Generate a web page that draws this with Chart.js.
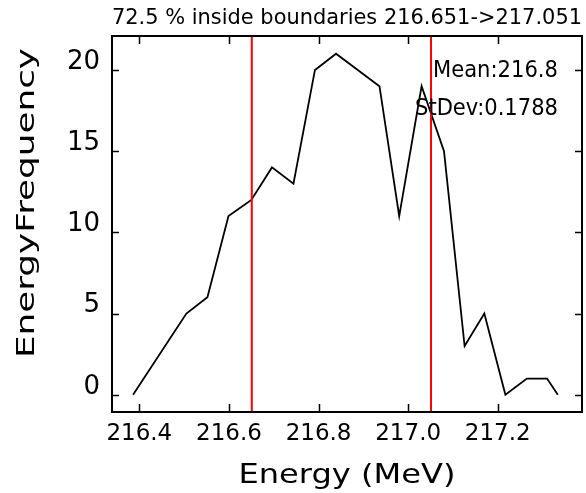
<!DOCTYPE html>
<html>
<head>
<meta charset="utf-8">
<script src="https://cdn.jsdelivr.net/npm/chart.js@4.4.1/dist/chart.umd.min.js"></script>
<style>
  body { margin: 0; background: #fff; }
  #wrap { width: 586px; height: 493px; }
</style>
</head>
<body>
<div id="wrap"><canvas id="energyChart" width="586" height="493"></canvas></div>
<script>
// values
const energy = [216.386, 216.505, 216.552, 216.599, 216.65, 216.696, 216.744, 216.792, 216.839,
  216.936, 216.98, 217.03, 217.08, 217.126, 217.17, 217.217, 217.265, 217.31, 217.334];
const counts = [0, 5, 6, 11, 12, 14, 13, 20, 21, 19, 11, 19, 15, 3, 5, 0, 1, 1, 0];
const bounds = [216.651, 217.051];
const xTicks = [216.4, 216.6, 216.8, 217.0, 217.2];
const yTicks = [0, 5, 10, 15, 20];
const xRange = [216.339, 217.388];
const yRange = [-1.06, 22.09];

const titleText = '72.5 % inside boundaries 216.651->217.051';
const meanText = 'Mean:216.8';
const stdText = 'StDev:0.1788';

const FONT = '"DejaVu Sans", sans-serif';

// draws text stretched horizontally to a given width (the original font is very wide)
function drawFit(ctx, text, x, y, w, size, rotate) {
  ctx.save();
  ctx.font = size + 'px ' + FONT;
  const m = ctx.measureText(text).width;
  ctx.translate(x, y);
  if (rotate) ctx.rotate(-Math.PI / 2);
  ctx.scale(w / m, 1);
  ctx.textAlign = 'center';
  ctx.textBaseline = 'alphabetic';
  ctx.fillStyle = '#000';
  ctx.fillText(text, 0, 0);
  ctx.restore();
}

const framePlugin = {
  id: 'frame',
  afterDraw(chart) {
    const ctx = chart.ctx;
    const a = chart.chartArea;
    const xs = chart.scales.x, ys = chart.scales.y;
    ctx.save();
    ctx.strokeStyle = '#000';
    ctx.lineWidth = 1.5;
    ctx.beginPath();
    xTicks.forEach(v => {
      const px = Math.round(xs.getPixelForValue(v)) + 0.5;
      ctx.moveTo(px, a.bottom); ctx.lineTo(px, a.bottom - 8);
      ctx.moveTo(px, a.top); ctx.lineTo(px, a.top + 8);
    });
    yTicks.forEach(v => {
      const py = Math.round(ys.getPixelForValue(v)) + 0.5;
      ctx.moveTo(a.left, py); ctx.lineTo(a.left + 7, py);
      ctx.moveTo(a.right, py); ctx.lineTo(a.right - 7, py);
    });
    ctx.stroke();
    ctx.lineWidth = 2;
    ctx.strokeRect(a.left, a.top, a.right - a.left, a.bottom - a.top);
    ctx.restore();

    const cx = (a.left + a.right) / 2;
    drawFit(ctx, titleText, cx, 24, 470, 20.5);
    drawFit(ctx, 'Energy (MeV)', cx, 482.5, 217, 27);
    drawFit(ctx, 'EnergyFrequency', 33.5, 203, 310, 25, true);
    drawFit(ctx, meanText, 558 - 125 / 2, 76.5, 125, 23);
    drawFit(ctx, stdText, 558 - 143 / 2, 115, 143, 23);
  }
};

const lineData = energy.map((e, i) => ({ x: e, y: counts[i] }));
const boundSets = bounds.map(b => ({
  data: [{ x: b, y: yRange[0] }, { x: b, y: yRange[1] }],
  borderColor: '#ff0000',
  borderWidth: 2,
  pointRadius: 0,
  order: 0,
}));

new Chart(document.getElementById('energyChart'), {
  type: 'line',
  data: {
    datasets: [
      ...boundSets,
      {
        data: lineData,
        borderColor: '#000',
        borderWidth: 1.8,
        pointRadius: 0,
        tension: 0,
        order: 1,
      },
    ],
  },
  options: {
    responsive: false,
    animation: false,
    layout: { padding: { top: 36, right: 4, left: 0, bottom: 0 } },
    plugins: { legend: { display: false }, tooltip: { enabled: false } },
    scales: {
      x: {
        type: 'linear',
        min: xRange[0],
        max: xRange[1],
        grid: { display: false, drawTicks: false },
        border: { display: false },
        afterBuildTicks: s => { s.ticks = xTicks.map(v => ({ value: v })); },
        afterFit: s => { s.height = 81; },
        ticks: {
          autoSkip: false,
          maxRotation: 0,
          padding: 8,
          color: '#000',
          font: { family: FONT, size: 23 },
          callback: v => v.toFixed(1),
        },
      },
      y: {
        min: yRange[0],
        max: yRange[1],
        grid: { display: false, drawTicks: false },
        border: { display: false },
        afterBuildTicks: s => { s.ticks = yTicks.map(v => ({ value: v })); },
        afterFit: s => { s.width = 112; },
        ticks: {
          padding: 12,
          labelOffset: -8,
          color: '#000',
          font: { family: FONT, size: 26 },
          callback: v => String(v),
        },
      },
    },
  },
  plugins: [framePlugin],
});
</script>
</body>
</html>
